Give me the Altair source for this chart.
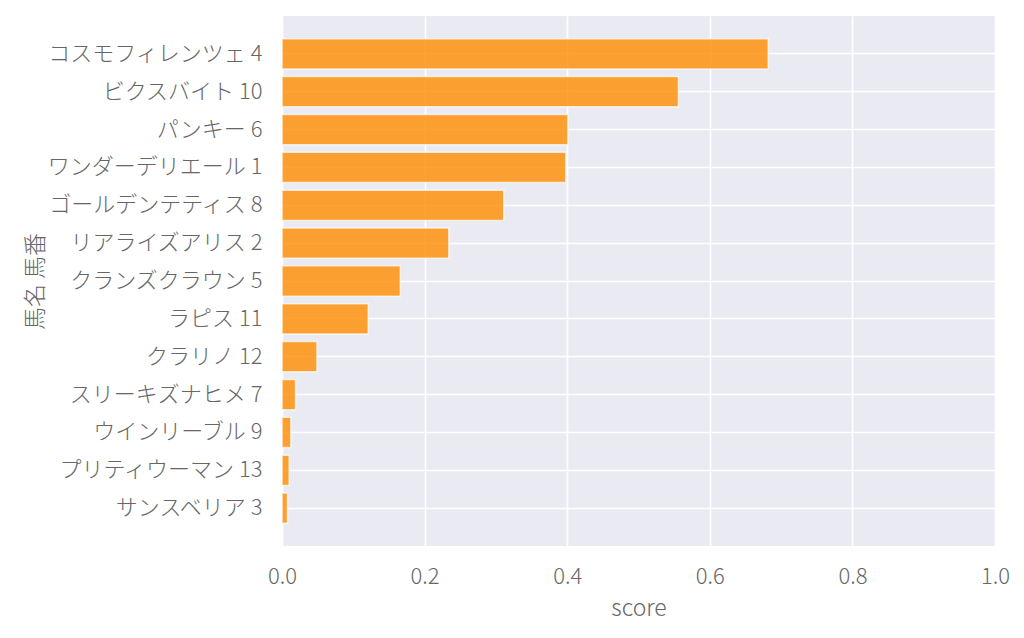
import altair as alt
import pandas as pd

horses = [
    "コスモフィレンツェ 4",
    "ビクスバイト 10",
    "パンキー 6",
    "ワンダーデリエール 1",
    "ゴールデンテティス 8",
    "リアライズアリス 2",
    "クランズクラウン 5",
    "ラピス 11",
    "クラリノ 12",
    "スリーキズナヒメ 7",
    "ウインリーブル 9",
    "プリティウーマン 13",
    "サンスベリア 3",
]
scores = [0.682, 0.556, 0.401, 0.398, 0.311, 0.234, 0.166, 0.121, 0.049, 0.019, 0.0124, 0.0101, 0.0077]
x_ticks = [0.0, 0.2, 0.4, 0.6, 0.8, 1.0]

df = pd.DataFrame({"horse": horses, "score": scores})

FONT = "'Noto Sans CJK JP Light', 'Noto Sans CJK JP DemiLight', 'Noto Sans CJK JP'"
TXT = "#666666"

chart = (
    alt.Chart(df)
    .mark_bar(
        color="#FF8C00",
        fillOpacity=0.8,
        stroke="#FFFFFF",
        strokeOpacity=0.7,
        strokeWidth=1.5,
    )
    .encode(
        x=alt.X(
            "score:Q",
            scale=alt.Scale(domain=[0, 1], nice=False, zero=True),
            axis=alt.Axis(
                title="score",
                values=x_ticks,
                format=".1f",
                grid=True,
                gridColor="#FFFFFF",
                gridWidth=1.6,
                domain=False,
                ticks=False,
                labelFlush=False,
                labelPadding=30,
                labelBaseline="middle",
                labelFontSize=22,
                labelFont=FONT,
                labelFontWeight=200,
                labelColor=TXT,
                titleFont=FONT,
                titleFontSize=23,
                titleFontWeight=200,
                titleColor=TXT,
                titleBaseline="middle",
                titleY=62,
            ),
        ),
        y=alt.Y(
            "horse:N",
            sort=horses,
            scale=alt.Scale(paddingInner=0.2, paddingOuter=0.6),
            axis=alt.Axis(
                title="馬名 馬番",
                grid=True,
                gridColor="#FFFFFF",
                gridWidth=1.6,
                bandPosition=0.5,
                domain=False,
                ticks=False,
                labelPadding=20,
                labelFontSize=22,
                labelFont=FONT,
                labelFontWeight=200,
                labelColor=TXT,
                labelLimit=400,
                titleFont=FONT,
                titleFontSize=23,
                titleFontWeight=200,
                titleColor=TXT,
                titleAngle=270,
                titleAlign="center",
                titleBaseline="middle",
                titleX=-247,
                titleY=265,
            ),
        ),
    )
    .properties(
        width=713,
        height=530,
        autosize=alt.AutoSizeParams(type="none"),
        padding={"left": 274, "top": 8, "right": 21, "bottom": 84},
        background="#FFFFFF",
    )
    .configure_view(fill="#EAEAF2", strokeWidth=0)
)

chart.save("out.html", embed_options={"renderer": "svg", "actions": False})
